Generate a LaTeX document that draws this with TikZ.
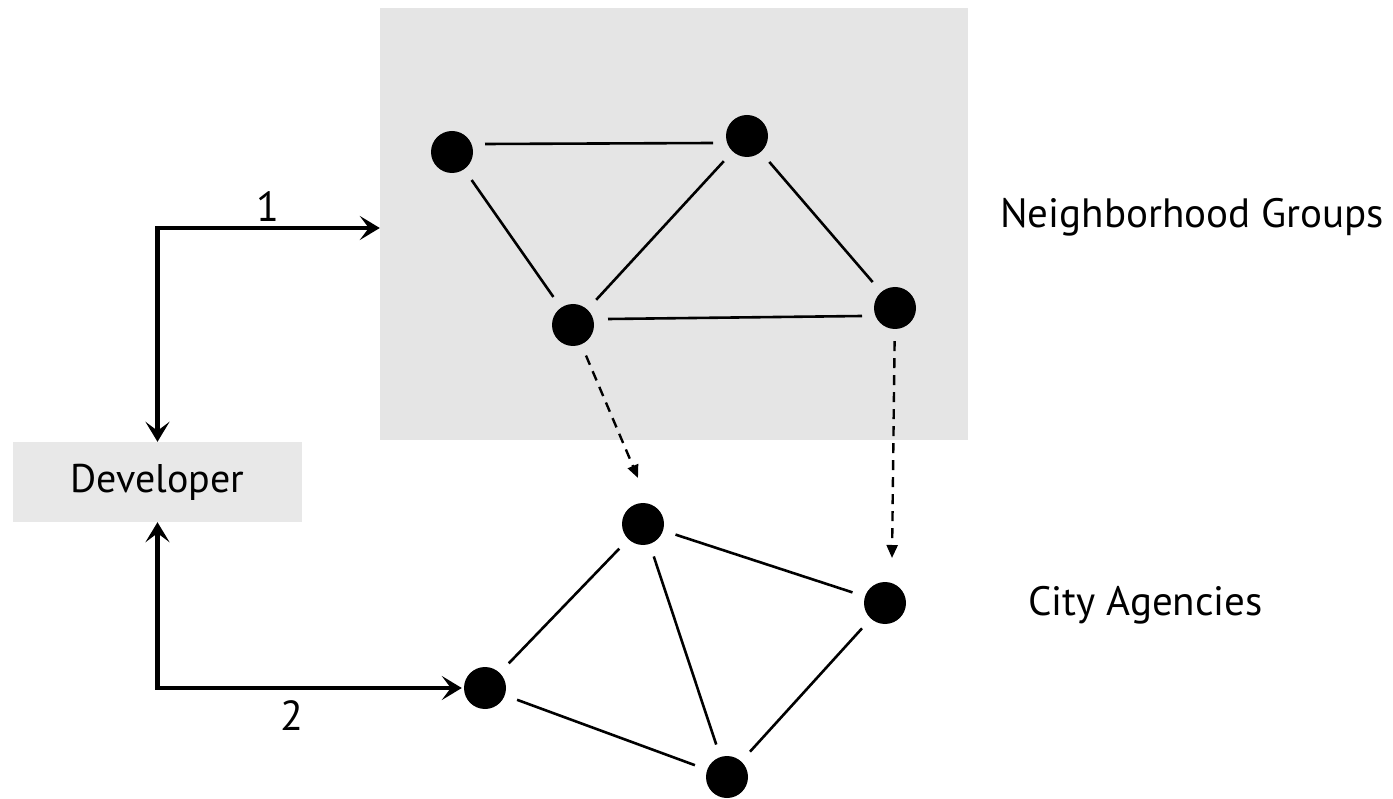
\documentclass[tikz,border=0pt]{standalone}
\usepackage{fontspec}
\setmainfont{PT Sans}
\usetikzlibrary{arrows.meta}
\begin{document}
\begin{tikzpicture}[x=1pt,y=-1pt,
  dot/.style={circle,fill=black,minimum size=42pt,inner sep=0pt},
  link/.style={line width=2.6pt,shorten <=13pt,shorten >=13pt},
  flat/.style={line width=2.6pt},
  maparrow/.style={line width=2.4pt,dash pattern=on 10pt off 7pt,-{Triangle[length=13pt,width=11pt]}},
  devarrow/.style={line width=4.5pt,{Stealth[length=20pt,width=24pt,inset=9pt]}-{Stealth[length=20pt,width=24pt,inset=9pt]}},
  lbl/.style={font=\fontsize{41}{45}\selectfont,inner sep=0pt},
  num/.style={font=\fontsize{42}{46}\selectfont,inner sep=0pt}]
\useasboundingbox (0,0) rectangle (1393,799);
\node[fill=gray!20,minimum width=588pt,minimum height=432pt,inner sep=0pt] (ng) at (674,224) {};
\node[fill=gray!18,minimum width=289pt,minimum height=80pt,inner sep=0pt,font=\fontsize{40}{44}\selectfont] (dev) at (157.5,482) {Developer};
% upper network
\node[dot] (A) at (452,152) {};
\node[dot] (B) at (747,136) {};
\node[dot] (C) at (573,325) {};
\node[dot] (D) at (895,308) {};
% lower network
\node[dot] (E) at (643,524) {};
\node[dot] (F) at (885,603) {};
\node[dot] (G) at (485,688) {};
\node[dot] (H) at (727,777) {};
\draw[flat] ([shift={(33,-8)}]A.center) -- ([shift={(-34,7)}]B.center);
\draw[link] (A) -- (C);
\draw[link] (B) -- (C);
\draw[link] (B) -- (D);
\draw[flat] ([shift={(35,-6)}]C.center) -- ([shift={(-33,8)}]D.center);
\draw[link] (E) -- (F);
\draw[link] (E) -- (G);
\draw[link] (E) -- (H);
\draw[link] (F) -- (H);
\draw[link] (G) -- (H);
% mapping arrows
\coordinate (ce) at (638,478);
\coordinate (df) at (892,558);
\draw[maparrow,shorten <=12pt] (C) -- (ce);
\draw[maparrow,shorten <=12pt] (D) -- (df);
% developer arrows
\coordinate (c1) at (157.5,228);
\draw[devarrow] (dev.north) |- (c1 -| ng.west);
\draw[devarrow,shorten >=2pt] (dev.south) |- (G.west);
\node[num,anchor=base] (n1) at (268,222) {1};
\node[num,anchor=base] (n2) at (292,730) {2};
\node[lbl,anchor=base west] (lng) at (1000,228) {Neighborhood Groups};
\node[lbl,anchor=base west] (lca) at (1028,615) {City Agencies};
\end{tikzpicture}
\end{document}
